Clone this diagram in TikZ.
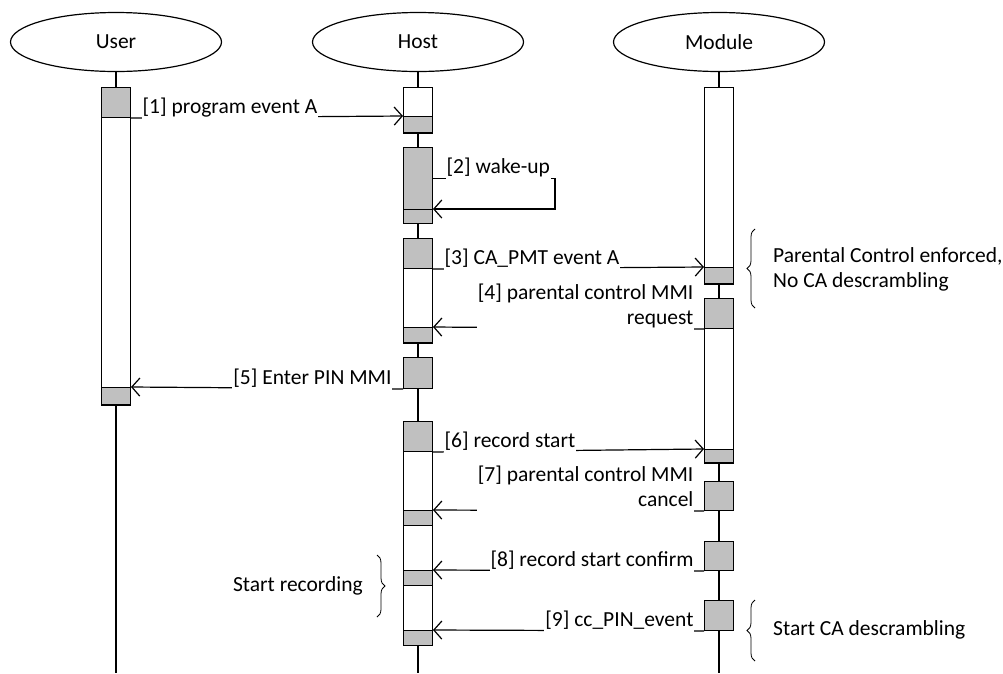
\documentclass[tikz,border=0pt]{standalone}
\usepackage{fontspec}
\setmainfont{Carlito}
\usetikzlibrary{shapes.geometric,arrows.meta,decorations.pathreplacing}

\definecolor{actgray}{RGB}{192,192,192}

\tikzset{
  actor/.style={draw, ellipse, line width=1.2pt, inner sep=0pt,
    minimum width=211pt, minimum height=59pt,
    font=\fontsize{21.5}{26}\selectfont},
  life/.style={line width=1.2pt},
  bar/.style={draw, fill=white, line width=1pt, inner sep=0pt,
    minimum width=29pt},
  act/.style={bar, fill=actgray},
  msg/.style={line width=1.2pt,
    -{Straight Barb[length=8pt,width=18pt,line width=1.2pt]}},
  lbl/.style={fill=white, inner sep=1pt, text depth=4.5pt,
    font=\fontsize{21.5}{25}\selectfont},
  note/.style={inner sep=0pt, align=left,
    font=\fontsize{21.5}{25}\selectfont},
  brc/.style={decorate, decoration={brace, amplitude=8pt}, line width=0.8pt}
}

\begin{document}
\begin{tikzpicture}[x=1pt,y=-1pt]
\useasboundingbox (0,0) rectangle (1003,673);

%Actors
\node[actor] (user) at (116,42){User};
\node[actor] (host) at (418,42){Host};
\node[actor] (module) at (719,42){Module};

%Lifelines
\coordinate (uend) at (116,673);
\coordinate (hend) at (418,673);
\coordinate (mend) at (719,673);
\draw[life] (user.south) -- (uend);
\draw[life] (host.south) -- (hend);
\draw[life] (module.south) -- (mend);

%User
\node[bar, minimum height=318pt, anchor=north] (ub1) at (116,87){};
\node[act, minimum height=30pt, anchor=north] (ua1) at (116,87){};
\node[act, minimum height=17pt, anchor=south] (ua2) at (116,405){};

%Host
\node[bar, minimum height=46pt, anchor=north] (hb1) at (418,87){};
\node[act, minimum height=16pt, anchor=south] (hg1) at (418,133){};

\node[act, minimum height=62pt, anchor=north] (hg2a) at (418,147){};
\node[act, minimum height=14pt, anchor=north] (hg2b) at (418,209){};

\node[bar, minimum height=105pt, anchor=north] (hb3) at (418,238){};
\node[act, minimum height=30pt, anchor=north] (hg3a) at (418,238){};
\node[act, minimum height=15pt, anchor=south] (hg3b) at (418,343){};

\node[act, minimum height=31pt, anchor=north] (hg4) at (418,357){};

\node[bar, minimum height=224pt, anchor=north] (hb5) at (418,421){};
\node[act, minimum height=30pt, anchor=north] (hg5a) at (418,421){};
\node[act, minimum height=15pt, anchor=north] (hg5b) at (418,510){};
\node[act, minimum height=15pt, anchor=north] (hg5c) at (418,570){};
\node[act, minimum height=15pt, anchor=north] (hg5d) at (418,630){};

%Module
\node[bar, minimum height=197pt, anchor=north] (mb1) at (719,87){};
\node[act, minimum height=16pt, anchor=south] (mg1) at (719,284){};

\node[bar, minimum height=165pt, anchor=north] (mb2) at (719,298){};
\node[act, minimum height=30pt, anchor=north] (mg2) at (719,298){};
\node[act, minimum height=13pt, anchor=south] (mg2b) at (719,463){};

\node[act, minimum height=29pt, anchor=north] (mg3) at (719,481){};
\node[act, minimum height=29pt, anchor=north] (mg4) at (719,541){};
\node[act, minimum height=30pt, anchor=north] (mg5) at (719,600){};

%Messages
\draw[msg] (ua1.south east) -- (hg1.north west)
  node[lbl, pos=0, anchor=south west, xshift=10pt, yshift=-1.5pt] (l1) {[1] program event A};
\draw[msg] (hg2a.east)
  -- node[lbl, pos=0, anchor=south west, xshift=12pt, yshift=-1.5pt] (l2) {[2] wake-up}
  ++(122,0) |- (hg2b.north east);
\draw[msg] (hg3a.south east) -- (mg1.north west)
  node[lbl, pos=0, anchor=south west, xshift=10pt, yshift=-1.5pt] (l3) {[3] CA\_PMT event A};
\draw[msg] (mg2.south west) -- (hg3b.north east)
  node[lbl, pos=0, anchor=south east, xshift=-9pt, yshift=-1.5pt, align=right] (l4) {[4] parental control MMI\\request};
\draw[msg] (hg4.south west) -- (ua2.north east)
  node[lbl, pos=0, anchor=south east, xshift=-10pt, yshift=-1.5pt] (l5) {[5] Enter PIN MMI};
\draw[msg] (hg5a.south east) -- (mg2b.north west)
  node[lbl, pos=0, anchor=south west, xshift=10pt, yshift=-1.5pt] (l6) {[6] record start};
\draw[msg] (mg3.south west) -- (hg5b.north east)
  node[lbl, pos=0, anchor=south east, xshift=-9pt, yshift=-1.5pt, align=right] (l7) {[7] parental control MMI\\cancel};
\draw[msg] (mg4.south west) -- (hg5c.north east)
  node[lbl, pos=0, anchor=south east, xshift=-9pt, yshift=-1.5pt] (l8) {[8] record start confirm};
\draw[msg] (mg5.south west) -- (hg5d.north east)
  node[lbl, pos=0, anchor=south east, xshift=-9pt, yshift=-1.5pt] (l9) {[9] cc\_PIN\_event};

%Notes
\coordinate (pcb) at (755,308);
\coordinate (pct) at (755,229);
\draw[brc] (pcb) -- (pct);
\node[note, anchor=west] (pcnote) at (773,269){Parental Control enforced,\\No CA descrambling};

\coordinate (srt) at (377,555);
\coordinate (srb) at (377,617);
\draw[brc] (srt) -- (srb);
\node[note, anchor=east] (srnote) at (363,586){Start recording};

\coordinate (cab) at (755,661);
\coordinate (cat) at (755,600);
\draw[brc] (cab) -- (cat);
\node[note, anchor=west] (canote) at (773,630){Start CA descrambling};

\end{tikzpicture}
\end{document}
